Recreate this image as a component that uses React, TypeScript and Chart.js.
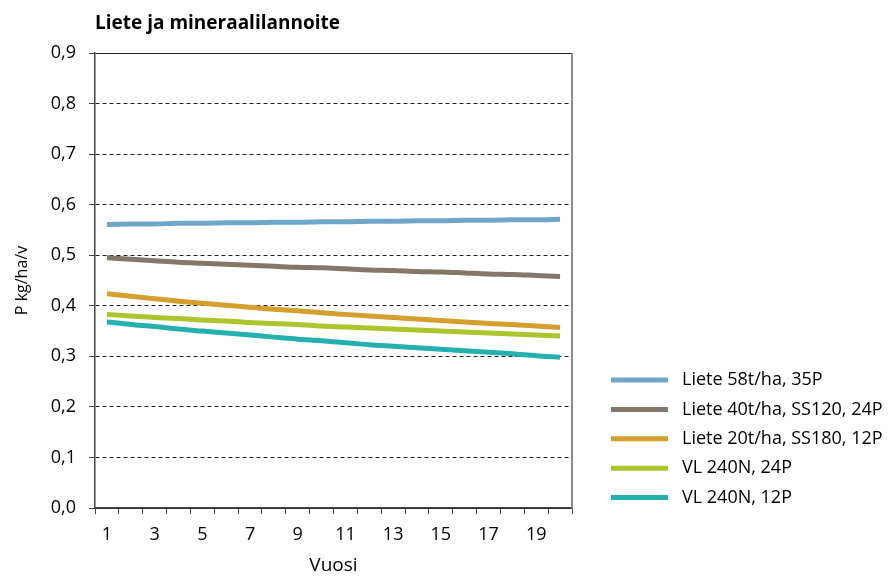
import React, { useEffect, useRef } from 'react';
import { Chart, registerables } from 'chart.js';

Chart.register(...registerables);

const chartTitle = 'Liete ja mineraalilannoite';
const xAxisTitle = 'Vuosi';
const yAxisTitle = 'P kg/ha/v';

const years = ['1', '2', '3', '4', '5', '6', '7', '8', '9', '10', '11', '12', '13', '14', '15', '16', '17', '18', '19', '20'];
const yTickLabels = ['0,0', '0,1', '0,2', '0,3', '0,4', '0,5', '0,6', '0,7', '0,8', '0,9'];

const seriesNames = [
  'Liete 58t/ha, 35P',
  'Liete 40t/ha, SS120, 24P',
  'Liete 20t/ha, SS180, 12P',
  'VL 240N, 24P',
  'VL 240N, 12P',
];
const seriesColors = ['#6fa7cb', '#83776b', '#d49f2e', '#adc52c', '#24b0ae'];

const liete58 = [0.561, 0.562, 0.562, 0.563, 0.563, 0.564, 0.564, 0.565, 0.565, 0.566, 0.566, 0.567, 0.567, 0.568, 0.568, 0.569, 0.569, 0.570, 0.570, 0.571];
const liete40 = [0.495, 0.492, 0.489, 0.486, 0.484, 0.482, 0.480, 0.478, 0.476, 0.475, 0.473, 0.471, 0.470, 0.468, 0.467, 0.465, 0.463, 0.462, 0.460, 0.458];
const liete20 = [0.424, 0.419, 0.414, 0.409, 0.405, 0.401, 0.397, 0.393, 0.390, 0.386, 0.383, 0.380, 0.377, 0.374, 0.371, 0.368, 0.365, 0.363, 0.360, 0.357];
const vl24 = [0.383, 0.380, 0.377, 0.375, 0.372, 0.370, 0.367, 0.365, 0.363, 0.360, 0.358, 0.356, 0.354, 0.352, 0.350, 0.348, 0.346, 0.344, 0.342, 0.340];
const vl12 = [0.368, 0.363, 0.359, 0.354, 0.350, 0.346, 0.342, 0.338, 0.334, 0.331, 0.327, 0.323, 0.320, 0.317, 0.314, 0.311, 0.308, 0.305, 0.301, 0.298];

const seriesValues = [liete58, liete40, liete20, vl24, vl12];

const FONT = '"Open Sans", Lato, sans-serif';

const framePlugin = {
  id: 'frameAndLegend',
  afterDraw(chart: any) {
    const { ctx, chartArea } = chart;
    ctx.save();
    // right border
    ctx.strokeStyle = '#8a8a8a';
    ctx.lineWidth = 2;
    ctx.beginPath();
    ctx.moveTo(chartArea.right, chartArea.top);
    ctx.lineTo(chartArea.right, chartArea.bottom);
    ctx.stroke();
    // legend
    const x0 = chartArea.right + 39;
    const lineLen = 57;
    const textX = chartArea.right + 110;
    const yStart = chartArea.bottom - 128;
    const step = 29.4;
    ctx.font = `18px ${FONT}`;
    ctx.textBaseline = 'middle';
    ctx.textAlign = 'left';
    chart.data.datasets.forEach((ds: any, i: number) => {
      const y = yStart + i * step;
      ctx.strokeStyle = ds.borderColor;
      ctx.lineWidth = 5;
      ctx.lineCap = 'butt';
      ctx.beginPath();
      ctx.moveTo(x0, y);
      ctx.lineTo(x0 + lineLen, y);
      ctx.stroke();
      ctx.fillStyle = '#000';
      ctx.fillText(ds.label, textX, y);
    });
    ctx.restore();
  },
};

export default function App() {
  const canvasRef = useRef<HTMLCanvasElement | null>(null);

  useEffect(() => {
    document.body.style.margin = '0';
    const canvas = canvasRef.current;
    if (!canvas) return;
    const chart = new Chart(canvas, {
      type: 'line',
      data: {
        labels: years,
        datasets: seriesValues.map((vals, i) => ({
          label: seriesNames[i],
          data: vals,
          borderColor: seriesColors[i],
          backgroundColor: seriesColors[i],
          borderWidth: 5,
          pointRadius: 0,
          pointHoverRadius: 0,
          cubicInterpolationMode: 'monotone',
          fill: false,
          borderCapStyle: 'butt',
        })),
      },
      options: {
        animation: false,
        responsive: false,
        maintainAspectRatio: false,
        layout: { padding: { left: 0, right: 317, top: 0, bottom: 0 } },
        plugins: {
          legend: { display: false },
          tooltip: { enabled: false },
          title: {
            display: true,
            text: chartTitle,
            align: 'start',
            fullSize: false,
            color: '#000',
            font: { family: FONT, size: 19, weight: 'bold' },
            padding: { top: 11.9, bottom: 18.3 },
          },
        },
        scales: {
          x: {
            offset: true,
            afterFit: (s: any) => { s.height = 69; },
            grid: { offset: true, drawOnChartArea: false, tickLength: 6, color: '#444', tickColor: '#444' },
            border: { color: '#444', width: 1.5 },
            ticks: {
              autoSkip: false,
              maxRotation: 0,
              minRotation: 0,
              padding: 10.2,
              color: '#000',
              font: { family: FONT, size: 18 },
              callback: (_v: any, i: number) => (i % 2 === 0 ? years[i] : ''),
            },
            title: {
              display: true,
              text: xAxisTitle,
              color: '#000',
              font: { family: FONT, size: 19 },
              padding: { top: 0, bottom: 0 },
            },
          },
          y: {
            min: 0,
            max: 0.9,
            afterFit: (s: any) => { s.width = 95; },
            grid: { color: '#222', lineWidth: 1, tickLength: 6, tickColor: '#444' },
            border: {
              color: '#444',
              width: 1.5,
              dash: (c: any) => (c.tick && (c.tick.value > 0.89 || c.tick.value < 0.01) ? [] : [4, 3]),
            },
            ticks: {
              stepSize: 0.1,
              padding: 13,
              color: '#000',
              font: { family: FONT, size: 18 },
              callback: (_v: any, i: number) => yTickLabels[i],
            },
            title: {
              display: true,
              text: yAxisTitle,
              color: '#000',
              font: { family: FONT, size: 16 },
              padding: { top: 12.4, bottom: 0 },
            },
          },
        },
      },
      plugins: [framePlugin],
    } as any);
    return () => chart.destroy();
  }, []);

  return (
    <div style={{ width: 889, height: 577, position: 'relative' }}>
      <style>{'body{margin:0}'}</style>
      <canvas ref={canvasRef} width={889} height={577} />
    </div>
  );
}
